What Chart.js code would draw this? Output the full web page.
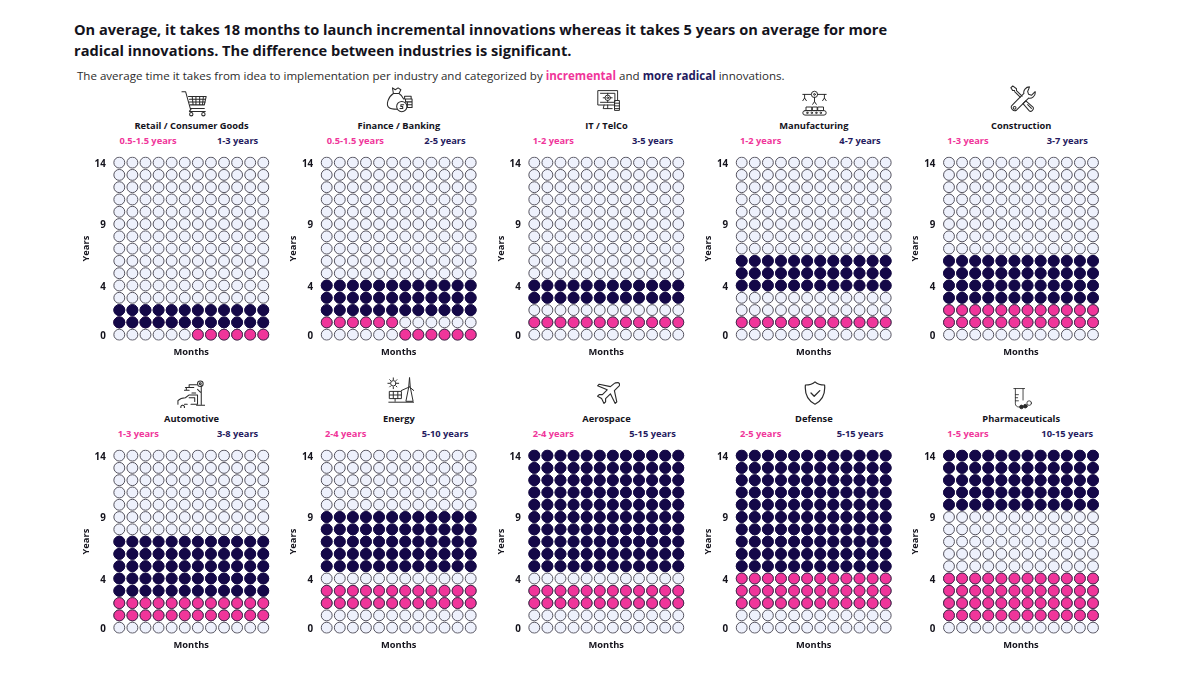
<!DOCTYPE html>
<html>
<head>
<meta charset="utf-8">
<title>Time to innovation per industry</title>
<script src="https://cdn.jsdelivr.net/npm/chart.js@4"></script>
<style>
  html, body { margin: 0; padding: 0; background: #fff; overflow: hidden; }
  #page { position: relative; width: 1200px; height: 679px; font-family: "Open Sans", sans-serif; color: #111; }
  #page div, #page canvas, #page svg { position: absolute; }
  .title { left: 74px; top: 19px; width: 860px; font-size: 14.6px; line-height: 21px; font-weight: 700; color: #14131c; }
  .subtitle { left: 77px; top: 67px; font-size: 11.55px; line-height: 18px; color: #2c2c2c; white-space: nowrap; }
  .subtitle b.inc, .range.inc { color: #f0359a; }
  .subtitle b.rad, .range.rad { color: #241a5e; }
  .name, .range { transform: translateX(-50%); white-space: nowrap; font-weight: 700; font-size: 9.3px; line-height: 12px; }
  .name { color: #14131c; }
  .icon { fill: none; stroke: #2a2a2a; stroke-width: 1.1; stroke-linecap: round; stroke-linejoin: round; }
  .icon .solid { fill: #2a2a2a; }
</style>
</head>
<body>
<div id="page">
  <div class="title">On average, it takes 18 months to launch incremental innovations whereas it takes 5 years on average for more radical innovations. The difference between industries is significant.</div>
  <div class="subtitle">The average time it takes from idea to implementation per industry and categorized by <b class="inc">incremental</b> and <b class="rad">more radical</b> innovations.</div>
</div>

<script>
// Chart data (years from idea to implementation)
const categories = ['Retail / Consumer Goods', 'Finance / Banking', 'IT / TelCo', 'Manufacturing', 'Construction',
  'Automotive', 'Energy', 'Aerospace', 'Defense', 'Pharmaceuticals'];
const incrementalLabels = ['0.5-1.5 years', '0.5-1.5 years', '1-2 years', '1-2 years', '1-3 years',
  '1-3 years', '2-4 years', '2-4 years', '2-5 years', '1-5 years'];
const radicalLabels = ['1-3 years', '2-5 years', '3-5 years', '4-7 years', '3-7 years',
  '3-8 years', '5-10 years', '5-15 years', '5-15 years', '10-15 years'];
const incrementalFrom = [0.5, 0.5, 1, 1, 1, 1, 2, 2, 2, 1];
const incrementalTo = [1.5, 1.5, 2, 2, 3, 3, 4, 4, 5, 5];
const radicalFrom = [1, 2, 3, 4, 3, 3, 5, 5, 5, 10];
const radicalTo = [3, 5, 5, 7, 7, 8, 10, 15, 15, 15];
const yearTicks = [0, 4, 9, 14];
const monthCount = 12;
const yearCount = 15;

const pink = '#f0359a';
const navy = '#140848';
const empty = '#eef1fc';
const ring = '#55535f';

// Layout of the small multiples
const columnX = [119.3, 326.7, 534.3, 741.7, 949];
const rowY = [162.6, 455.6];
const stepX = 13.09;
const stepY = 12.29;
const iconAt = [[195, 103], [399, 100], [609, 100], [814, 102], [1023, 99],
  [190.5, 394], [400, 390], [607.5, 392.5], [815, 392.5], [1021, 398]];
const iconSize = [28, 28, 27, 27, 28, 28, 27, 24, 24, 23];

const iconPaths = [
  // cart
  '<path d="M1 3h4l5 18h15M8 8h19l-2 9H10M12 8l1 9M16 8v9M20 8v9M24 8l-1 9M9 11h17M9 14h17M11 21l-2 3h17"/><circle cx="11" cy="27" r="1.8"/><circle cx="24" cy="27" r="1.8"/>',
  // money bag and coins
  '<path d="M8 2l3 2 3-2 3 2-2 4h-6zM9 8C3 12 1 20 4 23c2 2 6 2 9 2M15 8c2 1 4 4 5 6"/><circle cx="18" cy="22" r="5.5"/><path d="M20 20h-3v2h2v2h-3"/><path d="M21 11h7v3h-7zM22 14h7v3h-7zM24 17h5v3h-5zM24 20h5v3h-5z"/>',
  // monitor with gear
  '<path d="M21 20H2V4h22v11M5 7h16v10H5M9 20l-1 4h10M13 20v4"/><circle cx="13" cy="12" r="3"/><circle cx="13" cy="12" r="1"/><path d="M13 7v2M13 15v2M8 12h2M16 12h2"/><path d="M21 15h5v11h-5zM21 18h5M21 21h5M21 24h5"/>',
  // conveyor line
  '<path d="M2 6h9M19 6h9M4 6v4M15 9v5M26 6v4M2 13l2-3 2 3M24 13l2-3 2 3M13 17l2-3 2 3"/><circle cx="15" cy="6" r="3.5"/><circle cx="15" cy="6" r="1"/><path d="M6 24h6v-4H6zM13 24h5v-4h-5zM19 24h6v-4h-6z"/><rect x="2" y="24" width="26" height="5" rx="2.5"/><circle cx="7" cy="26.5" r=".8"/><circle cx="12" cy="26.5" r=".8"/><circle cx="17" cy="26.5" r=".8"/><circle cx="22" cy="26.5" r=".8"/>',
  // spanner and screwdriver
  '<path d="M22 2c-4 0-7 4-6 7L3 22c-2 3 2 7 5 5L21 14c3 1 8-2 7-7l-4 4-3-1-1-3z"/><circle cx="6" cy="24.5" r="1.5"/><path d="M2 3l2-2 4 3v2l6 6M6 6H4L2 3M6 7l6 6"/><path d="M18 17l-3 3 7 8c2 1 5-2 4-4zM20 21l4 4"/>',
  // robot arm and car
  '<path d="M9 8h9M13 8V5h8M10 8v3M8 11h5M26 6v20M21 27h9M22 10l3 3M20 14h-4"/><circle cx="25" cy="4" r="3"/><circle cx="25" cy="4" r="1"/><path d="M1 26v-4c2-2 5-3 8-3l4-3h9v10h-7M8 26h3M6 27a2 2 0 1 0 .1 0M13 19h6v4"/>',
  // sun, solar panel, wind turbine
  '<circle cx="7" cy="7" r="3"/><path d="M7 1v2M7 11v2M1 7h2M11 7h2M3 3l1 1M10 10l1 1M3 11l1-1M10 4l1-1"/><path d="M25 1l-1 11-3 15h8l-3-15zM25 11L16 15M25 11l7 6"/><path d="M3 16h13v8H3zM7 16v8M12 16v8M3 20h13M9 24v3M2 28h28"/>',
  // plane
  '<path d="M27 2c2 0 3 2 2 4L23 12l3 14-2 2-6-12-6 6v4l-2 2-3-6-5-3 2-2h4l6-6L2 6l2-2 14 3 5-4c1-1 3-1 4-1z" stroke-width="1.4"/>',
  // shield with check
  '<path d="M15 1c3 3 8 4 12 4 1 11-2 19-12 24C5 24 2 16 3 5c4 0 9-1 12-4z" stroke-width="1.5"/><path d="M10 15l4 4 7-7" stroke-width="1.6"/>',
  // test tube and pills
  '<path d="M5 2h14M7 2v20c0 2 2 4 4 4h4M17 2v15M7 10h4M7 14h3M7 18h4"/><circle class="solid" cx="15" cy="26" r="2.4"/><circle class="solid" cx="20" cy="25" r="2.4"/><circle cx="25" cy="21" r="3"/>'
];

const page = document.getElementById('page');

function addText(cls, text, x, y) {
  const el = document.createElement('div');
  el.className = cls;
  el.textContent = text;
  el.style.left = x + 'px';
  el.style.top = y + 'px';
  page.appendChild(el);
}

// One dot per month for every year between two points in time
function cellsBetween(from, to) {
  const cells = [];
  for (let year = 0; year < yearCount; year++) {
    for (let month = 1; month <= monthCount; month++) {
      const t = year + (month - 1) / 12;
      if (t >= from && t < to) cells.push({ x: month, y: year });
    }
  }
  return cells;
}

categories.forEach((category, i) => {
  const dotX = columnX[i % 5];
  const topY = rowY[Math.floor(i / 5)];
  const areaLeft = dotX - stepX / 2;
  const areaTop = topY - stepY / 2;
  const areaW = stepX * monthCount;
  const areaH = stepY * yearCount;

  addText('name', category, dotX + 72.2, 119.6 + 293 * Math.floor(i / 5));
  const incOffset = incrementalLabels[i].startsWith('0.5') ? 28.7 : 19;
  addText('range inc', incrementalLabels[i], dotX + incOffset, 135 + 293.3 * Math.floor(i / 5));
  addText('range rad', radicalLabels[i], dotX + 118.3, 135 + 293.3 * Math.floor(i / 5));

  const icon = document.createElementNS('http://www.w3.org/2000/svg', 'svg');
  icon.setAttribute('viewBox', '0 0 30 30');
  icon.setAttribute('width', iconSize[i]);
  icon.setAttribute('height', iconSize[i]);
  icon.setAttribute('class', 'icon');
  icon.style.left = (iconAt[i][0] - iconSize[i] / 2) + 'px';
  icon.style.top = (iconAt[i][1] - iconSize[i] / 2) + 'px';
  icon.innerHTML = iconPaths[i];
  page.appendChild(icon);

  // whole canvas pixels; the remainder goes into axis size and padding
  const canvasLeft = Math.floor(areaLeft - 31.6);
  const canvasTop = Math.floor(areaTop - 14);
  const canvasW = 200;
  const canvasH = Math.round(topY + 195.2 - canvasTop);
  const axisW = areaLeft - canvasLeft;
  const padTop = areaTop - canvasTop;
  const padRight = canvasW - axisW - areaW;
  const axisH = canvasH - padTop - areaH;

  const canvas = document.createElement('canvas');
  canvas.width = canvasW;
  canvas.height = canvasH;
  canvas.style.left = canvasLeft + 'px';
  canvas.style.top = canvasTop + 'px';
  canvas.style.width = canvasW + 'px';
  canvas.style.height = canvasH + 'px';
  page.appendChild(canvas);

  const axisFont = { family: '"Open Sans", sans-serif', size: 9.3, weight: '700' };
  const tickFont = { family: '"Open Sans", sans-serif', size: 9.8, weight: '700' };
  const dotStyle = { showLine: false, pointRadius: 5.45, pointHoverRadius: 5.45, pointBorderWidth: 1 };

  // Chart.js paints the first dataset on top, so the filled dots come first
  new Chart(canvas.getContext('2d'), {
    type: 'scatter',
    data: {
      datasets: [
        { label: 'More radical', data: cellsBetween(radicalFrom[i], radicalTo[i]), pointBackgroundColor: navy, pointBorderColor: navy, ...dotStyle },
        { label: 'Incremental', data: cellsBetween(incrementalFrom[i], incrementalTo[i]), pointBackgroundColor: pink, pointBorderColor: '#4a2750', ...dotStyle },
        { label: 'Empty', data: cellsBetween(0, yearCount), pointBackgroundColor: empty, pointBorderColor: ring, ...dotStyle }
      ]
    },
    options: {
      responsive: false,
      animation: false,
      events: [],
      layout: { padding: { top: padTop, right: padRight, left: 0, bottom: 0 } },
      plugins: { legend: { display: false }, tooltip: { enabled: false } },
      scales: {
        x: {
          type: 'linear',
          min: 0.5,
          max: 12.5,
          grid: { display: false },
          border: { display: false },
          ticks: { display: false },
          title: { display: true, text: 'Months', color: '#14131c', font: axisFont, padding: 0 },
          afterFit: scale => { scale.height = axisH; }
        },
        y: {
          type: 'linear',
          min: -0.5,
          max: 14.5,
          grid: { display: false, drawTicks: false },
          border: { display: false },
          afterBuildTicks: scale => { scale.ticks = yearTicks.map(value => ({ value })); },
          ticks: { autoSkip: false, padding: 7, labelOffset: 1.5, color: '#14131c', font: tickFont, callback: v => String(v) },
          title: { display: true, text: 'Years', color: '#14131c', font: axisFont, padding: 0 },
          afterFit: scale => { scale.width = axisW; }
        }
      }
    }
  });
});
</script>
</body>
</html>
